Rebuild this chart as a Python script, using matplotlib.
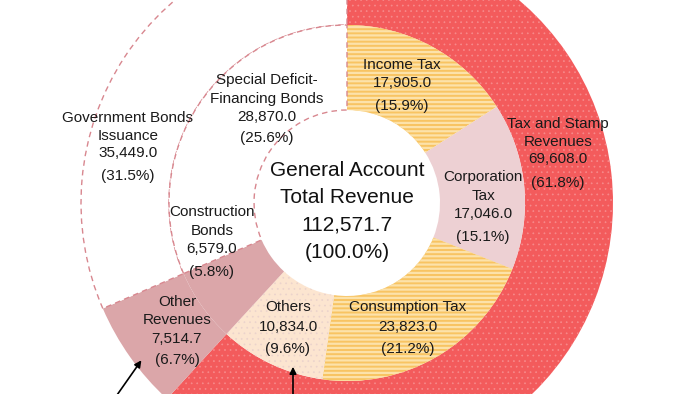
import matplotlib
matplotlib.use("Agg")
import matplotlib.pyplot as plt
from matplotlib.patches import Wedge

plt.rcParams['font.family'] = ['Liberation Sans', 'DejaVu Sans']
plt.rcParams['hatch.linewidth'] = 1.6

# data
total = 112571.7
middle_names = ['Income Tax', 'Corporation\nTax', 'Consumption Tax', 'Others',
                'Other\nRevenues', 'Construction\nBonds', 'Special Deficit-\nFinancing Bonds']
middle_values = [17905.0, 17046.0, 23823.0, 10834.0, 7514.7, 6579.0, 28870.0]
outer_names = ['Tax and Stamp\nRevenues', 'Other\nRevenues', 'Government Bonds\nIssuance']
outer_values = [69608.0, 7514.7, 35449.0]

# styles
middle_colors = ['#F8C462', '#EDD0D3', '#F8C462', '#FCE5D0', '#DBA6A9', 'white', 'white']
middle_hatch = ['----', None, '----', '...', None, None, None]
middle_hcol = ['#FCE2AA', None, '#FCE2AA', '#EBD3CC', None, None, None]
outer_colors = ['#F35B5C', '#DBA6A9', 'white']
outer_hatch = ['...', None, None]
outer_hcol = ['#F78A8B', None, None]
dash_col = '#D8878F'
txt_col = '#1a1a1a'

cx, cy = 347, 203
r_in, r_mid, r_out = 93, 178, 266

fig = plt.figure(figsize=(7, 3.94), dpi=100)
ax = fig.add_axes([0, 0, 1, 1])


def ring(values, colors, hatches, hcols, radius, width):
    wedges, _ = ax.pie(values, colors=colors, radius=radius, center=(cx, cy),
                       startangle=-90, counterclock=True, frame=True,
                       wedgeprops=dict(width=width, linewidth=0))
    for w, h, hc in zip(wedges, hatches, hcols):
        if h:
            hw = Wedge((cx, cy), radius, w.theta1, w.theta2, width=width,
                       facecolor='none', edgecolor=hc, linewidth=0, hatch=h)
            if h.startswith('.') and hasattr(hw, 'set_hatch_linewidth'):
                hw.set_hatch_linewidth(0.5)
            ax.add_patch(hw)
    # dashed outline around the white (bond) part of the ring
    white = [w for w, c in zip(wedges, colors) if c == 'white']
    ax.add_patch(Wedge((cx, cy), radius, white[0].theta1, white[-1].theta2, width=width,
                       facecolor='none', edgecolor=dash_col, linewidth=1.0,
                       linestyle=(0, (4, 3))))
    return wedges


ring(outer_values, outer_colors, outer_hatch, outer_hcol, r_out, r_out - r_mid)
ring(middle_values, middle_colors, middle_hatch, middle_hcol, r_mid, r_mid - r_in)

ax.set_xlim(0, 700)
ax.set_ylim(394, 0)
ax.set_aspect('equal')
ax.axis('off')

# labels: x, y of first name line, y of value line, y of percent line
mid_pos = [(402, 65, 83, 106), (483, 177, 214, 237), (408, 307, 327, 349),
           (288, 307, 327, 349), (177, 302, 339, 360), (212, 212, 249, 272),
           (267, 80, 117, 138)]
out_pos = [(558, 124, 159, 183), None, (128, 118, 153, 176)]


def label(name, value, pos):
    x, y0, yv, yp = pos
    lines = name.split('\n')
    n = len(lines)
    for i, ln in enumerate(lines):
        y = y0 + i * (yv - y0) / n if n > 1 else y0
        ax.text(x, y, ln, ha='center', va='center', fontsize=11, color=txt_col)
    ax.text(x, yv, f"{value:,.1f}", ha='center', va='center', fontsize=11, color=txt_col)
    ax.text(x, yp, f"({value / total * 100:.1f}%)", ha='center', va='center',
            fontsize=11, color=txt_col)


for nm, v, p in zip(middle_names, middle_values, mid_pos):
    label(nm, v, p)
for nm, v, p in zip(outer_names, outer_values, out_pos):
    if p:
        label(nm, v, p)

# centre
for y, s in zip([170, 197, 225, 252],
                ['General Account', 'Total Revenue', f"{total:,.1f}", '(100.0%)']):
    ax.text(cx, y, s, ha='center', va='center', fontsize=15, color='#111111')

# arrows
ax.annotate('', xy=(143, 358), xytext=(110, 405), annotation_clip=False,
            arrowprops=dict(arrowstyle='-|>', color='black', lw=1.2, mutation_scale=10))
ax.annotate('', xy=(293, 364), xytext=(293, 405), annotation_clip=False,
            arrowprops=dict(arrowstyle='-|>', color='black', lw=1.2, mutation_scale=10))

fig.savefig('out.png', dpi=100)
